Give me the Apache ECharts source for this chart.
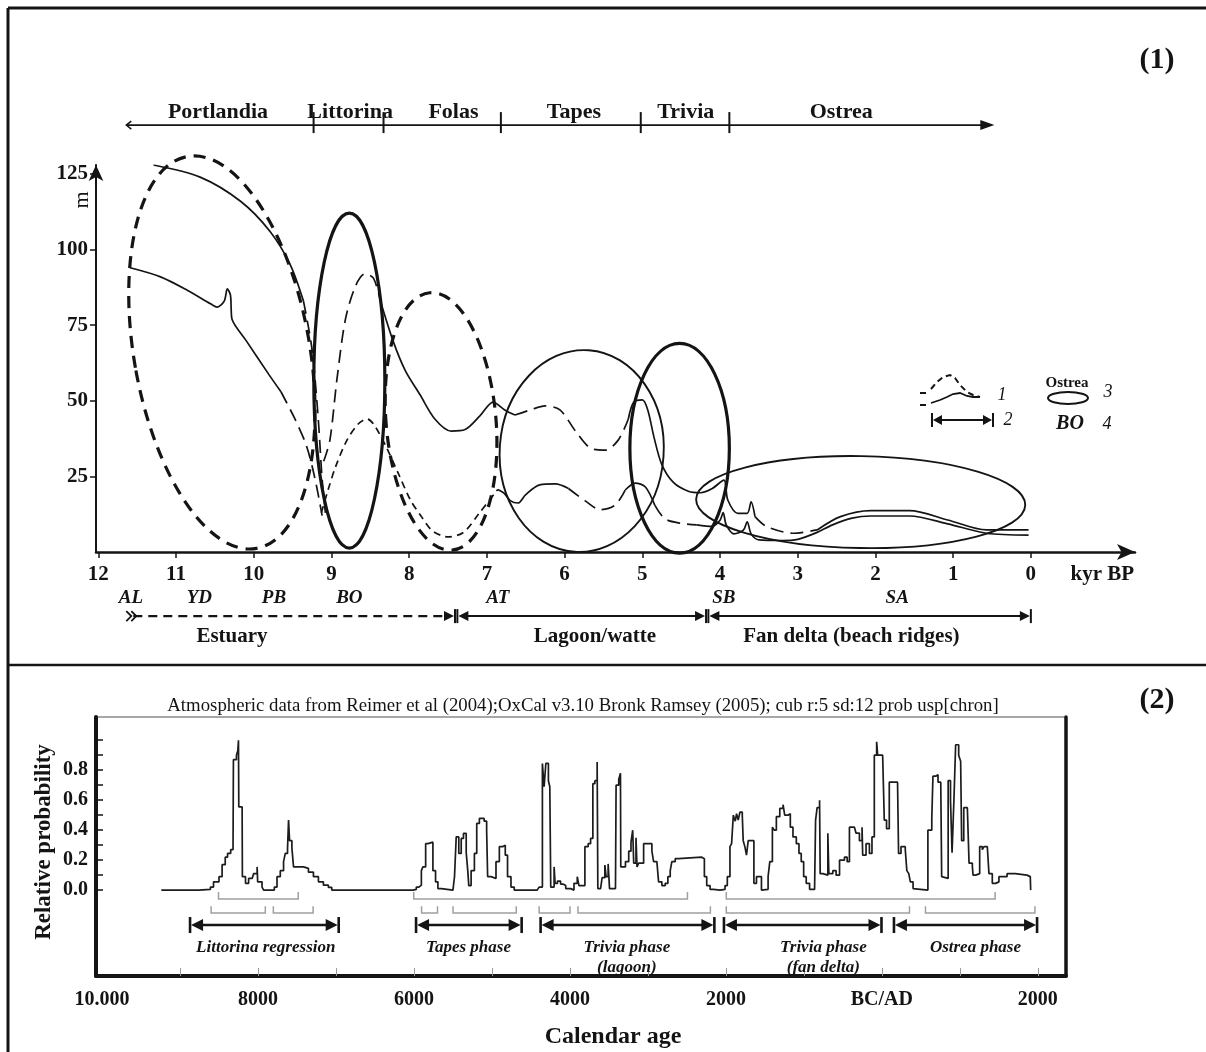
<!DOCTYPE html>
<html>
<head>
<meta charset="utf-8">
<title>Sea level phases and calibrated ages</title>
<script src="https://cdn.jsdelivr.net/npm/echarts@6/dist/echarts.min.js"></script>
<style>
  html, body { margin: 0; padding: 0; background: #fff; }
  #chart { width: 1206px; height: 1052px; }
</style>
</head>
<body>
<div id="chart"></div>
<script>
var SERIF = '"Liberation Serif", "Times New Roman", serif';
var INK = '#141414';

// ---------- panel (1): kyr BP against metres ----------
var kyrTicks = [0, 1, 2, 3, 4, 5, 6, 7, 8, 9, 10, 11, 12];
var metreTicks = [25, 50, 75, 100, 125];

var phaseNames = ['Portlandia', 'Littorina', 'Folas', 'Tapes', 'Trivia', 'Ostrea'];
var phaseLabelAt = [10.46, 8.76, 7.43, 5.88, 4.44, 2.44];
var phaseBounds = [9.23, 8.33, 6.82, 5.02, 3.88];
var phaseSpan = [11.64, 0.47];

var chronNames = ['AL', 'YD', 'PB', 'BO', 'AT', 'SB', 'SA'];
var chronAt = [11.58, 10.7, 9.74, 8.77, 6.86, 3.95, 1.72];

var zoneNames = ['Estuary', 'Lagoon/watte', 'Fan delta (beach ridges)'];
var zoneStart = [11.55, 7.38, 4.15];
var zoneEnd = [7.41, 4.18, 0];
var zoneLabelAt = [10.28, 5.61, 2.31];

// curves [kyr BP, m]
var upperSolid = [[11.29, 128], [10.69, 124], [10.17, 116], [9.79, 106], [9.53, 95], [9.36, 83]];
var upperDash = [[9.36, 83], [9.25, 67], [9.17, 44], [9.12, 24], [9.07, 11]];
var lowerSolid = [[11.59, 94], [11.2, 91], [10.85, 86.5], [10.55, 82], [10.47, 81], [10.38, 83], [10.34, 87], [10.3, 85], [10.29, 80], [10.28, 77], [10.1, 70], [9.8, 58.5], [9.65, 53]];
var lowerDash = [[9.65, 53], [9.47, 44], [9.32, 35], [9.21, 24], [9.12, 12]];
var midDash = [[9.1, 30], [9.02, 37], [8.93, 57], [8.82, 77], [8.69, 88], [8.57, 92], [8.46, 90.6], [8.37, 83]];
var midSolid = [[8.37, 83], [8.21, 70], [8.05, 60], [7.86, 52], [7.67, 44], [7.46, 40], [7.28, 40.5], [7.09, 45], [6.92, 49.6], [6.77, 47], [6.64, 45.3]];
var midDash2 = [[6.64, 45.3], [6.44, 47], [6.25, 48.3], [6.06, 47], [5.86, 40], [5.67, 34.4], [5.48, 33.7], [5.31, 37], [5.18, 44]];
var midSolid2 = [[5.18, 44], [5.11, 49.6], [5.0, 50.3], [4.93, 47], [4.85, 38], [4.75, 29], [4.6, 23], [4.4, 20], [4.25, 19.6], [4.1, 21], [3.95, 23.8], [3.9, 17.2], [3.77, 12.8], [3.65, 12.8], [3.6, 16.6], [3.55, 11.7]];
var midDash3 = [[3.55, 11.7], [3.4, 8.4], [3.05, 6.2], [2.75, 7.3]];
var ridgeUpper = [[2.75, 7.3], [2.45, 11.7], [2.06, 13.7], [1.56, 13.7], [1.07, 10.6], [0.57, 7.3], [0.03, 7.3]];
var lowDash = [[9.13, 13], [9.05, 20], [8.95, 28], [8.8, 37], [8.65, 42.5], [8.54, 44], [8.45, 42], [8.3, 35], [8.14, 26], [7.98, 17], [7.85, 12], [7.7, 7], [7.5, 5], [7.3, 6.5], [7.1, 12.8], [6.86, 20.7]];
var lowSolid = [[6.86, 20.7], [6.78, 19.5], [6.7, 17], [6.6, 16.2], [6.5, 19], [6.32, 22.2], [6.12, 22.5], [5.95, 21]];
var lowDash2 = [[5.95, 21], [5.74, 17], [5.54, 14], [5.35, 15.5], [5.22, 20.5]];
var lowSolid2 = [[5.22, 20.5], [5.09, 22.8], [4.96, 21.5], [4.84, 15.5]];
var lowDash3 = [[4.84, 15.5], [4.71, 11], [4.51, 9.5], [4.3, 9]];
var ridgeLower = [[4.3, 9], [4.1, 8.5], [4.0, 10.5], [3.96, 13], [3.92, 9], [3.82, 6], [3.7, 7.2], [3.65, 10], [3.6, 6], [3.5, 4], [3.2, 3.8], [3.0, 4.2], [2.75, 6.5], [2.56, 8.9], [2.3, 11.2], [2.06, 11.9], [1.56, 11.9], [1.07, 9.3], [0.57, 6.2], [0.03, 5.6]];

// ellipses [centre kyr, centre m, half width kyr, half height m, tilt deg]
var dashedEllipses = [[10.41, 66, 1.13, 65.8, 10], [7.59, 43.2, 0.707, 42.7, 5]];
var thickEllipses = [[8.77, 56.7, 0.457, 55.4, 0], [4.52, 34.3, 0.64, 34.7, 0]];
var thinEllipses = [[5.78, 33.4, 1.055, 33.4, -4], [2.19, 16.5, 2.118, 15.2, -1]];

// ---------- panel (2): calendar age against relative probability ----------
var calLabelAt = [-10000, -8000, -6000, -4000, -2000, 0, 2000];
var calTicks = [-9000, -8000, -7000, -6000, -5000, -4000, -3000, -2000, -1000, 0, 1000, 2000];
var probLabels = [0, 0.2, 0.4, 0.6, 0.8];
var probTicks = [0, 0.1, 0.2, 0.3, 0.4, 0.5, 0.6, 0.7, 0.8, 0.9, 1.0];

var phase2Names = ['Littorina regression', 'Tapes phase', 'Trivia phase\n(lagoon)', 'Trivia phase\n(fan delta)', 'Ostrea phase'];
var phase2Start = [-8871, -5973, -4376, -2025, 155];
var phase2End = [-6965, -4619, -2148, -5, 1990];
var phase2LabelAt = [-7900, -5300, -3270, -750, 1200];

var bracketRow1Start = [-8506, -6003, -1995];
var bracketRow1End = [-7484, -2493, 1452];
var bracketRow2Start = [-8601, -7803, -5902, -5499, -4395, -3897, -1995, 559];
var bracketRow2End = [-7906, -7293, -5698, -4688, -3999, -2199, 354, 1963];

// summed probability, [year, level from that year on]
var probSteps = [
  [-9240, 0],
  [-8760, 0.005], [-8610, 0.02], [-8570, 0.055], [-8500, 0.09], [-8460, 0.17], [-8420, 0.22], [-8390, 0.245], [-8350, 0.27], [-8320, 0.28],
  [-8315, 0.87], [-8276, 0.9], [-8259, 0.93], [-8250, 1.0], [-8246, 0.555], [-8203, 0.51], [-8200, 0.09], [-8160, 0.045], [-8120, 0.078],
  [-8075, 0.09], [-8055, 0.11], [-8011, 0.155], [-8004, 0.055], [-7948, 0.02], [-7927, 0],
  [-7790, 0.02], [-7756, 0.09], [-7714, 0.13], [-7672, 0.19], [-7650, 0.245], [-7621, 0.28], [-7608, 0.467], [-7595, 0.33], [-7565, 0.28],
  [-7544, 0.155], [-7417, 0.145], [-7353, 0.12], [-7289, 0.09], [-7225, 0.055], [-7161, 0.033], [-7097, 0.018], [-7054, 0],
  [-6010, 0.005], [-5970, 0.02], [-5936, 0.033], [-5905, 0.13], [-5885, 0.155], [-5850, 0.31], [-5820, 0.3], [-5799, 0.32], [-5757, 0.13],
  [-5723, 0.055], [-5693, 0.01], [-5650, 0],
  [-5500, 0.01], [-5480, 0.09], [-5458, 0.355], [-5425, 0.245], [-5394, 0.345], [-5365, 0.378], [-5330, 0.25], [-5310, 0.13], [-5297, 0.03],
  [-5267, 0.13], [-5225, 0.245], [-5195, 0.445], [-5161, 0.478], [-5100, 0.46], [-5068, 0.4], [-5055, 0.09], [-5011, 0.078], [-4948, 0.19],
  [-4905, 0.29], [-4863, 0.3], [-4829, 0.233], [-4800, 0.09], [-4756, 0.02], [-4714, 0],
  [-4420, 0.01], [-4395, 0.02], [-4353, 0.845], [-4331, 0.69], [-4309, 0.845], [-4276, 0.73], [-4258, 0.69], [-4246, 0.02], [-4203, 0.155],
  [-4190, 0.045], [-4160, 0.06], [-4120, 0.04], [-4090, 0.05], [-4076, 0.03], [-4054, 0.01], [-3990, 0],
  [-3948, 0.045], [-3906, 0.09], [-3884, 0.03], [-3808, 0.29], [-3766, 0.31], [-3735, 0.345], [-3706, 0.71], [-3680, 0.73], [-3651, 0.855],
  [-3642, 0.01], [-3607, 0.02], [-3587, 0.083], [-3552, 0.167], [-3536, 0.09], [-3510, 0.175], [-3492, 0.01], [-3416, 0],
  [-3408, 0.7], [-3374, 0.74], [-3352, 0.78], [-3348, 0.155], [-3288, 0.19], [-3246, 0.26], [-3217, 0.32], [-3195, 0.4], [-3182, 0.18],
  [-3153, 0.35], [-3140, 0.155], [-3118, 0.18], [-3055, 0.31], [-2949, 0.26], [-2927, 0.19], [-2885, 0.18], [-2863, 0.055], [-2821, 0.03],
  [-2778, 0.045], [-2744, 0.09], [-2714, 0.13], [-2693, 0.19], [-2650, 0.21], [-2608, 0.22], [-2310, 0.21], [-2276, 0.09], [-2246, 0.03],
  [-2203, 0.005], [-2161, 0],
  [-2075, 0.005], [-2011, 0.03], [-1982, 0.09], [-1948, 0.29], [-1927, 0.31], [-1905, 0.5], [-1880, 0.46], [-1863, 0.51], [-1842, 0.467],
  [-1820, 0.52], [-1790, 0.5], [-1778, 0.33], [-1757, 0.29], [-1736, 0.233], [-1714, 0.33], [-1641, 0.045], [-1608, 0.09], [-1544, 0],
  [-1522, 0.005], [-1459, 0.09], [-1437, 0.19], [-1404, 0.42], [-1380, 0.4], [-1353, 0.49], [-1309, 0.545], [-1267, 0.57], [-1246, 0.5],
  [-1204, 0.51], [-1174, 0.42], [-1140, 0.355], [-1097, 0.31], [-1063, 0.245], [-1034, 0.19], [-1003, 0.09], [-970, 0.045], [-927, 0.005], [-863, 0],
  [-850, 0.467], [-830, 0.55], [-799, 0.6], [-791, 0.11], [-757, 0.1], [-693, 0.38], [-680, 0.11], [-629, 0.13], [-587, 0.1], [-543, 0.2],
  [-480, 0.22], [-445, 0.19], [-416, 0.42], [-352, 0.42], [-331, 0.38], [-288, 0.33], [-254, 0.42], [-246, 0.233], [-203, 0.31], [-160, 0.245],
  [-127, 0.355], [-97, 0.9], [-67, 0.99], [-54, 0.9], [10, 0.91], [31, 0.467], [60, 0.41], [95, 0.72], [201, 0.72], [214, 0.245], [245, 0.29],
  [300, 0.27], [320, 0.13], [345, 0.11], [365, 0.055], [400, 0.01], [420, 0],
  [590, 0.4], [640, 0.48], [655, 0.76], [690, 0.77], [720, 0.72], [755, 0.71], [767, 0.09], [790, 0.078], [850, 0.73], [880, 0.6], [900, 0.25],
  [925, 0.62], [946, 0.97], [985, 0.9], [1010, 0.86], [1023, 0.33], [1050, 0.55], [1096, 0.54], [1118, 0.18], [1160, 0.16], [1169, 0.1],
  [1203, 0.09], [1224, 0.11], [1254, 0.29], [1288, 0.27], [1310, 0.29], [1352, 0.29], [1373, 0.11], [1416, 0.045], [1458, 0.055], [1501, 0.09],
  [1605, 0.11], [1711, 0.1], [1860, 0.09], [1903, 0.1], [1908, 0]
];

var chartDom = document.getElementById('chart');
var myChart = echarts.init(chartDom);
var option;

function txt(x, y, s, font, align, vAlign, extra) {
  var st = { text: s, font: font, fill: INK, align: align, verticalAlign: vAlign, textAlign: align, textVerticalAlign: vAlign };
  if (extra) { for (var k in extra) st[k] = extra[k]; }
  return { type: 'text', x: x, y: y, style: st };
}
function seg(x1, y1, x2, y2, w, dash, color) {
  return { type: 'line', shape: { x1: x1, y1: y1, x2: x2, y2: y2 }, style: { stroke: color || INK, lineWidth: w, lineDash: dash || null } };
}
function head(tipX, tipY, dir, len, half) {
  return { type: 'polygon', shape: { points: [[tipX, tipY], [tipX - dir * len, tipY - half], [tipX - dir * len, tipY + half]] }, style: { fill: INK } };
}
function chevron(tipX, tipY, dir, len, half, w) {
  return { type: 'polyline', shape: { points: [[tipX - dir * len, tipY - half], [tipX, tipY], [tipX - dir * len, tipY + half]] }, style: { stroke: INK, fill: 'none', lineWidth: w } };
}

function ellipseSeries(data, width, dash) {
  return {
    type: 'custom', xAxisIndex: 0, yAxisIndex: 0, clip: false, silent: true,
    encode: { x: 0, y: 1 },
    data: data,
    renderItem: function (params, api) {
      var c = api.coord([api.value(0), api.value(1)]);
      var s = api.size([api.value(2), api.value(3)], [api.value(0), api.value(1)]);
      return {
        type: 'ellipse', x: c[0], y: c[1], rotation: api.value(4) * Math.PI / 180,
        shape: { cx: 0, cy: 0, rx: Math.abs(s[0]), ry: Math.abs(s[1]) },
        style: { fill: 'none', stroke: INK, lineWidth: width, lineDash: dash || null }
      };
    }
  };
}

function curve(data, kind) {
  var dash = kind === 'long' ? [13, 7] : kind === 'short' ? [7, 5] : 'solid';
  return {
    type: 'line', xAxisIndex: 0, yAxisIndex: 0, data: data, smooth: 0.3,
    symbol: 'none', silent: true,
    lineStyle: { color: INK, width: 1.7, type: dash }
  };
}

// phase bar, chronozones and environment zones around panel (1)
var decor1 = {
  type: 'custom', xAxisIndex: 0, yAxisIndex: 0, clip: false, silent: true,
  data: [[0, 0]],
  renderItem: function (params, api) {
    var kids = [];
    var X = function (k) { return api.coord([k, 0])[0]; };
    var Y = function (m) { return api.coord([0, m])[1]; };

    var by = Y(141.2);
    var bx0 = X(phaseSpan[0]), bx1 = X(phaseSpan[1]);
    kids.push(seg(bx0, by, bx1 - 10, by, 1.6));
    kids.push(head(bx1, by, 1, 14, 5));
    kids.push(chevron(bx0, by, -1, 5, 4, 1.5));
    phaseBounds.forEach(function (b) { kids.push(seg(X(b), by - 13, X(b), by + 8, 2)); });
    phaseNames.forEach(function (n, i) {
      kids.push(txt(X(phaseLabelAt[i]), by - 2, n, 'bold 22px ' + SERIF, 'center', 'bottom'));
    });

    var cy = Y(-15.2);
    chronNames.forEach(function (n, i) {
      kids.push(txt(X(chronAt[i]), cy, n, 'italic bold 19px ' + SERIF, 'center', 'middle'));
    });

    var zy = Y(-21.2);
    zoneNames.forEach(function (n, i) {
      var xs = X(zoneStart[i]), xe = X(zoneEnd[i]);
      if (i === 0) {
        kids.push(seg(xs, zy, xe - 8, zy, 2.4, [9, 6]));
        kids.push(chevron(xs - 2, zy, 1, 5, 5, 1.8));
        kids.push(chevron(xs + 3, zy, 1, 5, 5, 1.8));
      } else {
        kids.push(seg(xs + 6, zy, xe - 8, zy, 2));
        kids.push(seg(xs, zy - 7, xs, zy + 7, 2));
        kids.push(head(xs + 1, zy, -1, 10, 5));
      }
      kids.push(head(xe - 1, zy, 1, 10, 5));
      kids.push(seg(xe, zy - 7, xe, zy + 7, 2));
      kids.push(txt(X(zoneLabelAt[i]), zy + 20, n, 'bold 21px ' + SERIF, 'center', 'middle'));
    });
    return { type: 'group', children: kids };
  }
};

// phase arrows and sample brackets under panel (2)
var decor2 = {
  type: 'custom', xAxisIndex: 1, yAxisIndex: 1, clip: false, silent: true,
  data: [[0, 0]],
  renderItem: function (params, api) {
    var kids = [];
    var X = function (v) { return api.coord([v, 0])[0]; };
    var Y = function (p) { return api.coord([0, p])[1]; };
    var grey = '#a0a0a0';

    function brackets(starts, ends, level, top) {
      var yl = Y(level), yt = Y(top);
      starts.forEach(function (s, i) {
        var a = X(s), b = X(ends[i]);
        kids.push({ type: 'polyline', shape: { points: [[a, yt], [a, yl], [b, yl], [b, yt]] }, style: { stroke: grey, fill: 'none', lineWidth: 1.5 } });
      });
    }
    brackets(bracketRow1Start, bracketRow1End, -0.06, -0.012);
    brackets(bracketRow2Start, bracketRow2End, -0.153, -0.107);

    var ay = Y(-0.233);
    var ly = Y(-0.32);
    phase2Names.forEach(function (n, i) {
      var xs = X(phase2Start[i]), xe = X(phase2End[i]);
      kids.push(seg(xs + 6, ay, xe - 6, ay, 2.6));
      kids.push(seg(xs, ay - 8, xs, ay + 8, 2.6));
      kids.push(seg(xe, ay - 8, xe, ay + 8, 2.6));
      kids.push(head(xs + 1, ay, -1, 12, 6));
      kids.push(head(xe - 1, ay, 1, 12, 6));
      kids.push(txt(X(phase2LabelAt[i]), ly, n, 'italic bold 17px ' + SERIF, 'center', 'top', { lineHeight: 20 }));
    });
    return { type: 'group', children: kids };
  }
};

var series = [
  curve(upperSolid, 'solid'), curve(upperDash, 'long'),
  curve(lowerSolid, 'solid'), curve(lowerDash, 'long'),
  curve(midDash, 'long'), curve(midSolid, 'solid'), curve(midDash2, 'long'),
  curve(midSolid2, 'solid'), curve(midDash3, 'long'), curve(ridgeUpper, 'solid'),
  curve(lowDash, 'short'), curve(lowSolid, 'solid'), curve(lowDash2, 'long'),
  curve(lowSolid2, 'solid'), curve(lowDash3, 'long'), curve(ridgeLower, 'solid'),
  ellipseSeries(dashedEllipses, 3.2, [12, 8]),
  ellipseSeries(thickEllipses, 3.2),
  ellipseSeries(thinEllipses, 1.9),
  decor1,
  {
    type: 'line', xAxisIndex: 1, yAxisIndex: 1, data: probSteps, step: 'end',
    symbol: 'none', silent: true,
    lineStyle: { color: '#1c1c1c', width: 1.7 }
  },
  decor2
];

option = {
  backgroundColor: '#fff',
  animation: false,
  grid: [
    { left: 96, top: 165, width: 1039, height: 387, outerBoundsMode: 'none' },
    { left: 96, top: 717, width: 970, height: 259, show: true, borderColor: '#8a8a8a', borderWidth: 1.5, outerBoundsMode: 'none' }
  ],
  xAxis: [
    {
      gridIndex: 0, type: 'value', min: -1.34, max: 12.03, inverse: true, position: 'bottom',
      axisLine: { onZero: false, lineStyle: { color: INK, width: 2.5 }, symbol: ['none', 'arrow'], symbolSize: [12, 18] },
      axisTick: { customValues: kyrTicks, length: 6, lineStyle: { color: INK, width: 1.5 } },
      axisLabel: {
        customValues: kyrTicks.concat([-0.92]), margin: 12,
        formatter: function (v) { return v < 0 ? 'kyr BP' : String(v); },
        fontFamily: SERIF, fontWeight: 'bold', fontSize: 21, color: INK
      },
      splitLine: { show: false }
    },
    {
      gridIndex: 1, type: 'value', min: -10077, max: 2361, position: 'bottom',
      axisLine: { onZero: false, lineStyle: { color: INK, width: 4 } },
      axisTick: { customValues: calTicks, inside: true, length: 8, lineStyle: { color: '#9a9a9a', width: 1 } },
      axisLabel: {
        customValues: calLabelAt, margin: 14,
        formatter: function (v) { return v === 0 ? 'BC/AD' : v === -10000 ? '10.000' : String(Math.abs(v)); },
        fontFamily: SERIF, fontWeight: 'bold', fontSize: 20, color: INK
      },
      splitLine: { show: false }
    }
  ],
  yAxis: [
    {
      gridIndex: 0, type: 'value', min: 0, max: 128, position: 'left',
      axisLine: { show: true, onZero: false, lineStyle: { color: INK, width: 2 }, symbol: ['none', 'arrow'], symbolSize: [11, 16] },
      axisTick: { show: true, customValues: metreTicks, length: 6, lineStyle: { color: INK, width: 1.5 } },
      axisLabel: { customValues: metreTicks, margin: 8, fontFamily: SERIF, fontWeight: 'bold', fontSize: 21, color: INK },
      splitLine: { show: false }
    },
    {
      gridIndex: 1, type: 'value', min: -0.573, max: 1.155, position: 'left',
      axisLine: { show: true, onZero: false, lineStyle: { color: INK, width: 4 } },
      axisTick: { show: true, customValues: probTicks, inside: true, length: 7, lineStyle: { color: INK, width: 1.5 } },
      axisLabel: {
        customValues: probLabels, margin: 8,
        formatter: function (v) { return v.toFixed(1); },
        fontFamily: SERIF, fontWeight: 'bold', fontSize: 20, color: INK
      },
      splitLine: { show: false }
    },
    {
      gridIndex: 1, type: 'value', position: 'right', min: -0.573, max: 1.155,
      axisLine: { show: true, onZero: false, lineStyle: { color: INK, width: 3.5 } },
      axisTick: { show: false }, axisLabel: { show: false }, splitLine: { show: false }
    }
  ],
  graphic: [
    { type: 'line', shape: { x1: 8, y1: 8, x2: 1206, y2: 8 }, style: { stroke: INK, lineWidth: 3 } },
    { type: 'line', shape: { x1: 8, y1: 8, x2: 8, y2: 1052 }, style: { stroke: INK, lineWidth: 3 } },
    { type: 'line', shape: { x1: 8, y1: 665, x2: 1206, y2: 665 }, style: { stroke: INK, lineWidth: 2.5 } },
    txt(1157, 60, '(1)', 'bold 30px ' + SERIF, 'center', 'middle'),
    txt(1157, 700, '(2)', 'bold 30px ' + SERIF, 'center', 'middle'),
    txt(583, 706, 'Atmospheric data from Reimer et al (2004);OxCal v3.10 Bronk Ramsey (2005); cub r:5 sd:12 prob usp[chron]', '18.8px ' + SERIF, 'center', 'middle'),
    { type: 'text', x: 44, y: 842, rotation: Math.PI / 2, style: { text: 'Relative probability', font: 'bold 23px ' + SERIF, fill: INK, align: 'center', verticalAlign: 'middle', textAlign: 'center', textVerticalAlign: 'middle' } },
    txt(613, 1037, 'Calendar age', 'bold 24px ' + SERIF, 'center', 'middle'),
    { type: 'text', x: 82, y: 200, rotation: Math.PI / 2, style: { text: 'm', font: '22px ' + SERIF, fill: INK, align: 'center', verticalAlign: 'middle', textAlign: 'center', textVerticalAlign: 'middle' } },
    // key of panel (1)
    { type: 'line', shape: { x1: 920, y1: 393, x2: 926, y2: 393 }, style: { stroke: INK, lineWidth: 2 } },
    { type: 'polyline', shape: { points: [[931, 389], [937, 382], [943, 377], [950, 375], [955, 378], [960, 385], [967, 392], [973, 395], [980, 397]] }, style: { stroke: INK, fill: 'none', lineWidth: 2, lineDash: [6, 4] } },
    { type: 'line', shape: { x1: 920, y1: 405, x2: 926, y2: 405 }, style: { stroke: INK, lineWidth: 2 } },
    { type: 'polyline', shape: { points: [[931, 403], [940, 400], [947, 397], [953, 394], [960, 393], [967, 396], [973, 397], [980, 397]] }, style: { stroke: INK, fill: 'none', lineWidth: 1.8 } },
    txt(1002, 395, '1', 'italic 18px ' + SERIF, 'center', 'middle'),
    { type: 'line', shape: { x1: 937, y1: 420, x2: 988, y2: 420 }, style: { stroke: INK, lineWidth: 2 } },
    { type: 'line', shape: { x1: 932, y1: 413, x2: 932, y2: 427 }, style: { stroke: INK, lineWidth: 2 } },
    { type: 'line', shape: { x1: 993, y1: 413, x2: 993, y2: 427 }, style: { stroke: INK, lineWidth: 2 } },
    { type: 'polygon', shape: { points: [[933, 420], [942, 415], [942, 425]] }, style: { fill: INK } },
    { type: 'polygon', shape: { points: [[992, 420], [983, 415], [983, 425]] }, style: { fill: INK } },
    txt(1008, 420, '2', 'italic 18px ' + SERIF, 'center', 'middle'),
    txt(1067, 383, 'Ostrea', 'bold 15px ' + SERIF, 'center', 'middle'),
    { type: 'ellipse', shape: { cx: 1068, cy: 398, rx: 20, ry: 6 }, style: { fill: 'none', stroke: INK, lineWidth: 2 } },
    txt(1108, 392, '3', 'italic 18px ' + SERIF, 'center', 'middle'),
    txt(1070, 424, 'BO', 'italic bold 20px ' + SERIF, 'center', 'middle'),
    txt(1107, 424, '4', 'italic 18px ' + SERIF, 'center', 'middle')
  ],
  series: series
};

option && myChart.setOption(option);

window.addEventListener('resize', function () {
  myChart.resize();
});
</script>
</body>
</html>
